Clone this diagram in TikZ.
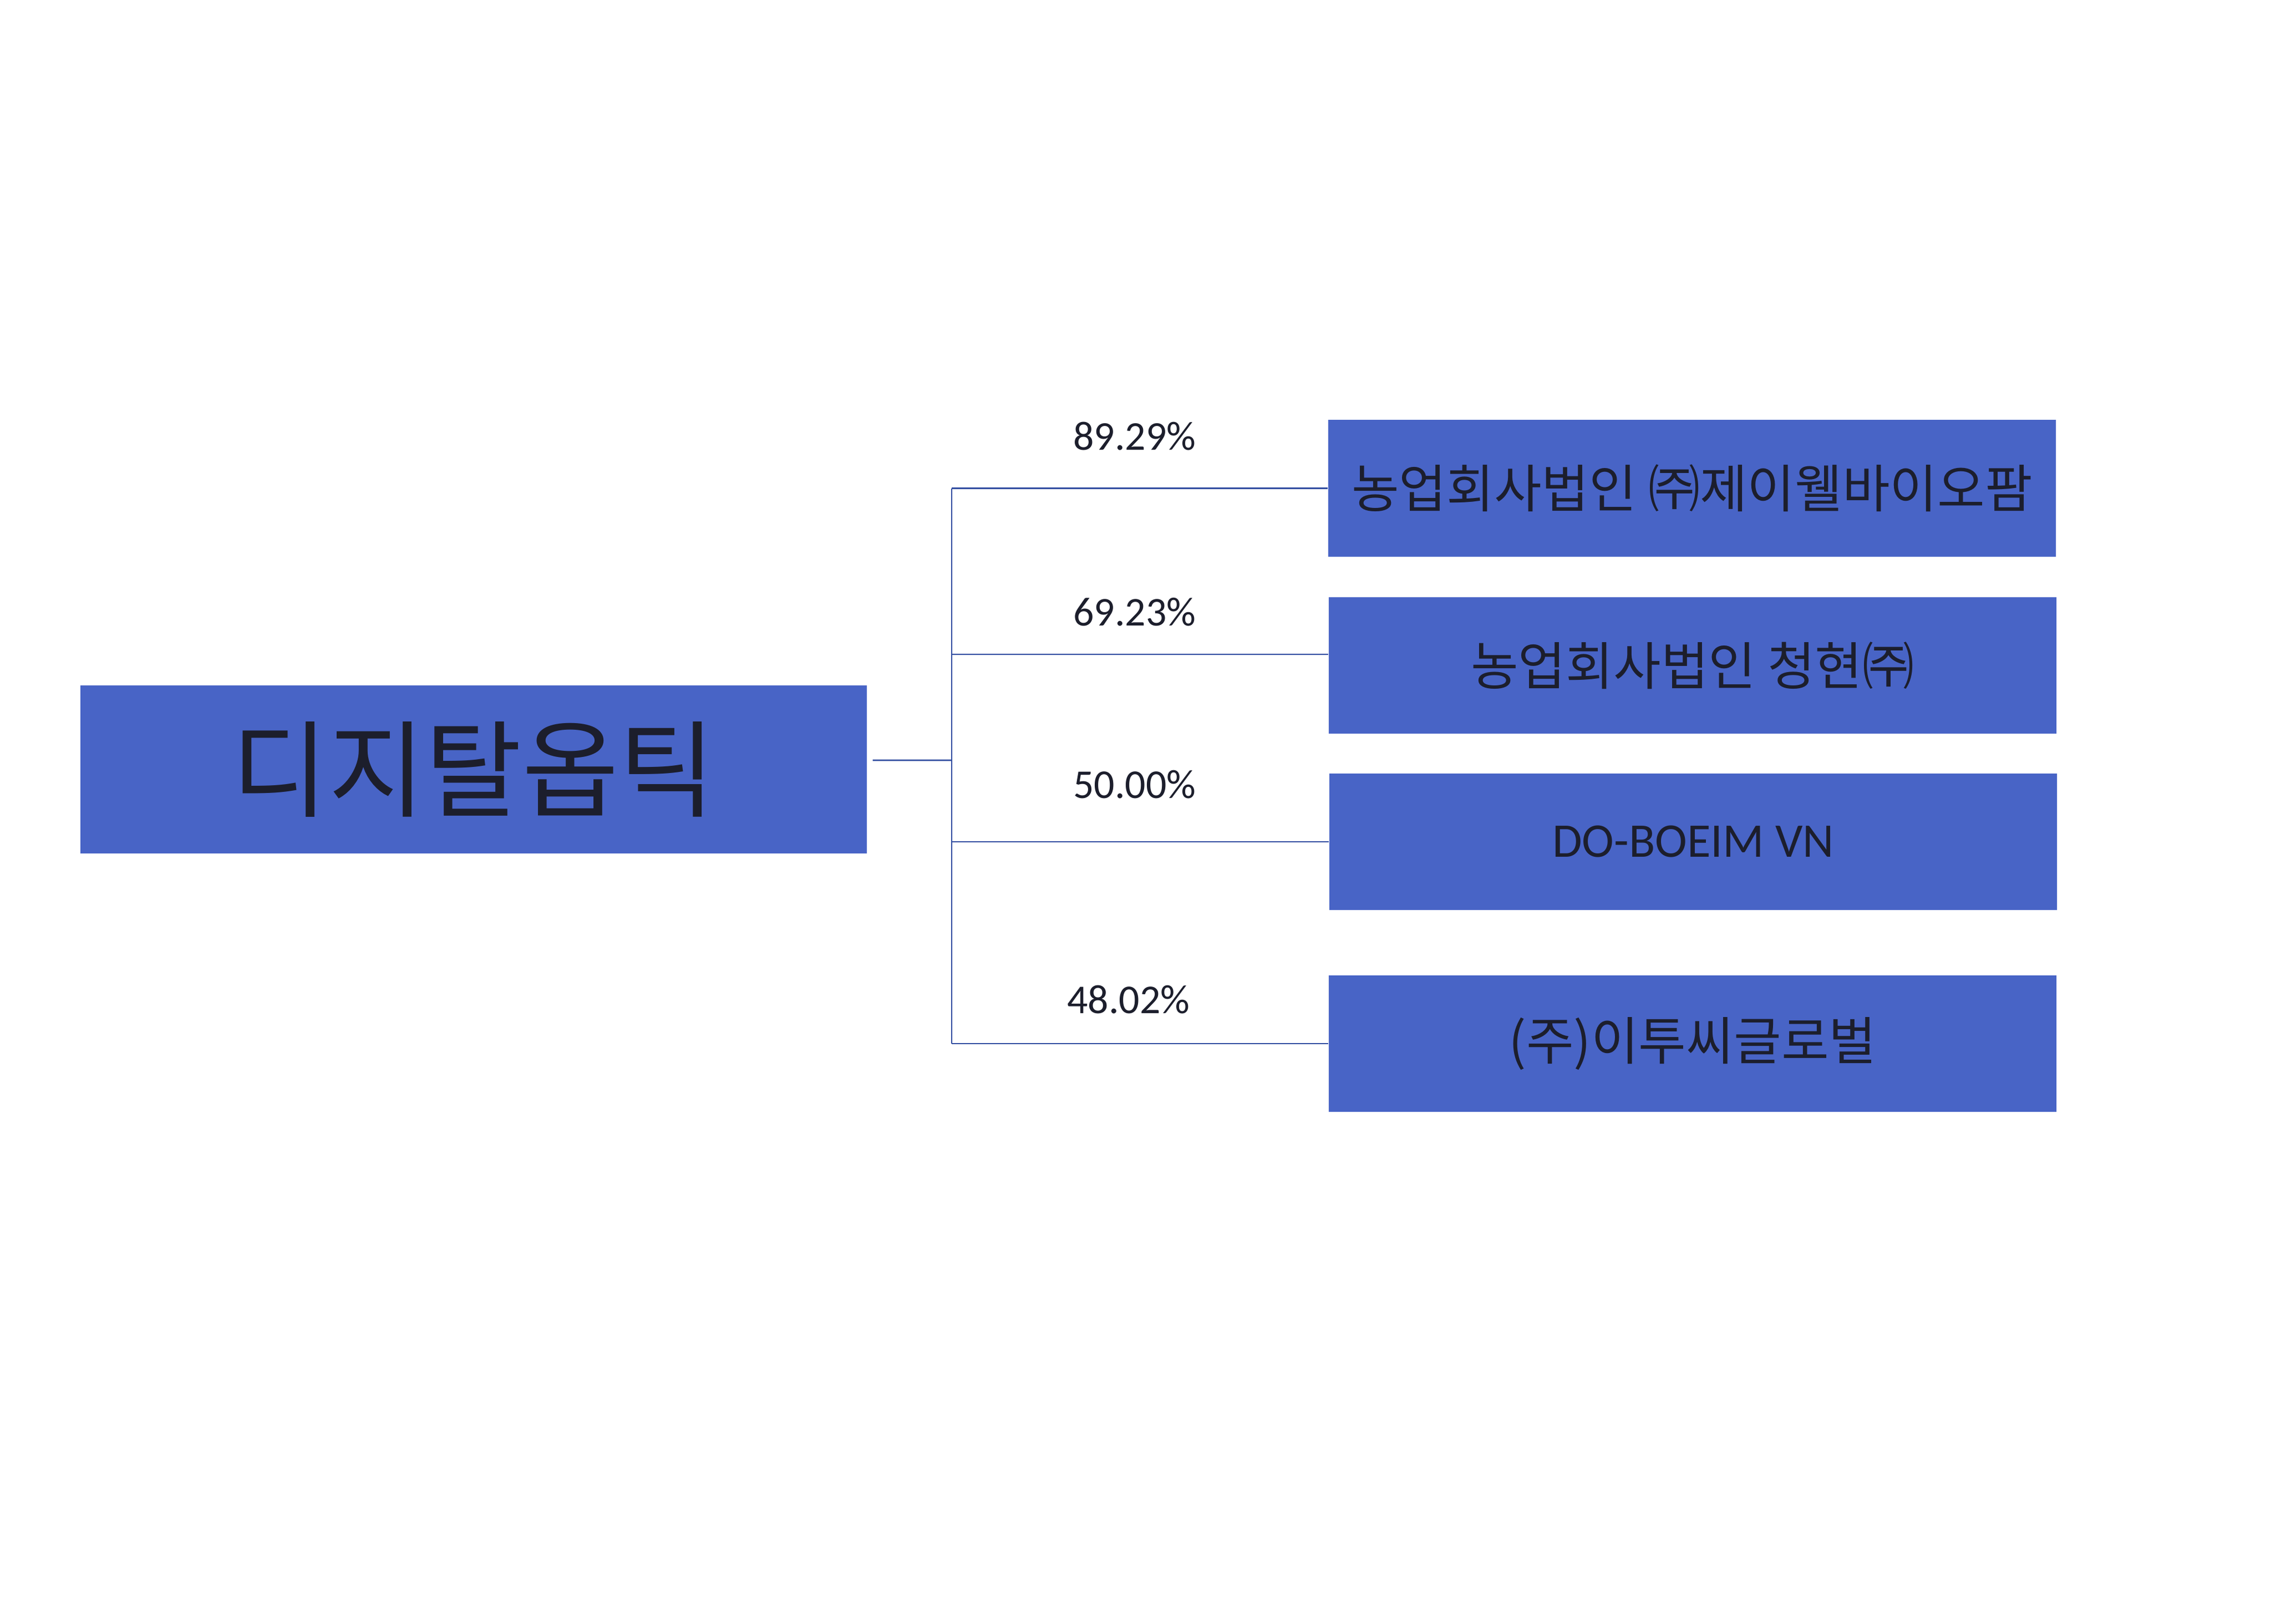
\documentclass[tikz,border=0pt]{standalone}
\usepackage{fontspec}
\setmainfont{Carlito}
\newfontfamily\krfont{Noto Sans CJK KR}
\definecolor{boxblue}{RGB}{72,100,198}
\definecolor{linkblue}{RGB}{48,76,160}
\definecolor{inktext}{RGB}{28,30,44}
\begin{document}
\begin{tikzpicture}[
    parentbox/.style={rectangle, fill=boxblue, minimum width=14.18cm, minimum height=3.03cm,
        text=inktext, font=\krfont\fontsize{54}{62}\selectfont},
    childbox/.style={rectangle, fill=boxblue, minimum width=13.12cm, minimum height=2.46cm,
        text=inktext, font=\krfont\fontsize{26.5}{30}\selectfont},
    share/.style={text=inktext, font=\fontsize{21}{25}\selectfont},
    link/.style={draw=linkblue, line width=0.8pt}]
            \useasboundingbox[fill=white] (0,0) rectangle (41.4,-29.25);

            % Parent company
            \node[parentbox] (digital) at (8.54,-13.875) {디지탈옵틱};

            % Subsidiaries
            \node[childbox] (jwell) at (30.51,-8.805) {농업회사법인 ㈜제이웰바이오팜};
            \node[childbox] (cheong) at (30.52,-12.00) {농업회사법인 청현㈜};
            \node[childbox, font=\fontsize{24.8}{28}\selectfont] (doboeim) at (30.53,-15.18) {DO-BOEIM VN};
            \node[childbox] (etoc) at (30.52,-18.82) {(주)이투씨글로벌};

            % Shares
            \node[share] (p1) at (20.46,-7.87) {89.29\%};
            \node[share] (p2) at (20.46,-11.04) {69.23\%};
            \node[share] (p3) at (20.46,-14.15) {50.00\%};
            \node[share] (p4) at (20.35,-18.03) {48.02\%};

            % Links
            \coordinate (bus) at (17.16,-13.71);
            \draw[link] ([xshift=1mm,yshift=1.65mm]digital.east) -- (bus);
            \draw[link] (bus |- jwell.west) -- (bus |- etoc.west);
            \draw[link] (bus |- jwell.west) -- (jwell.west);
            \draw[link] ([yshift=2mm]bus |- cheong.west) -- ([yshift=2mm]cheong.west);
            \draw[link] (bus |- doboeim.west) -- (doboeim.west);
            \draw[link] (bus |- etoc.west) -- (etoc.west);
\end{tikzpicture}
\end{document}
